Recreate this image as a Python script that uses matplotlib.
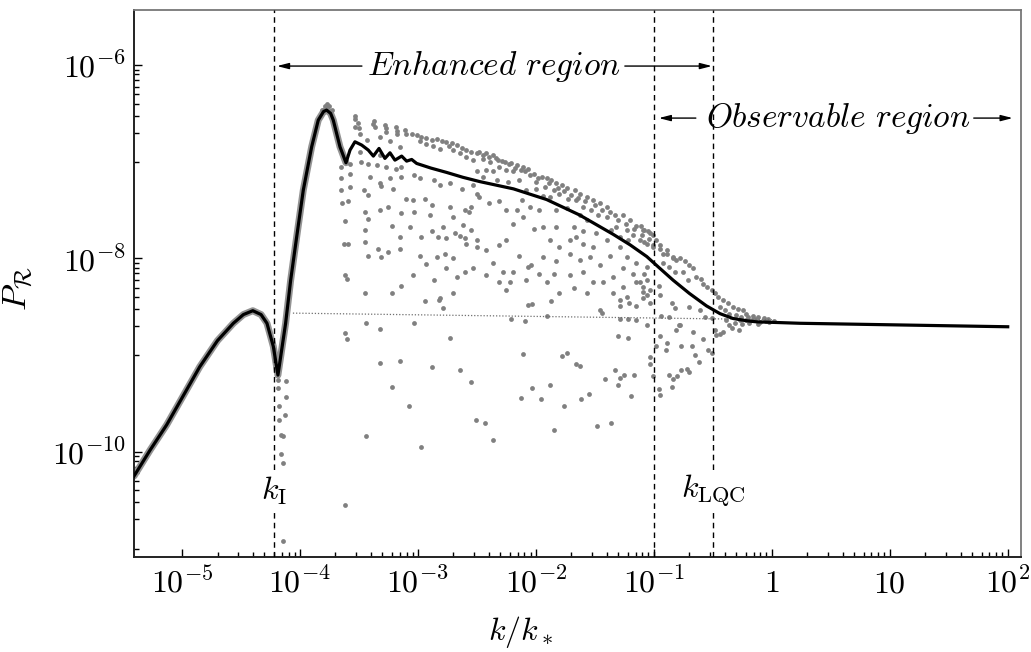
import numpy as np
import matplotlib
matplotlib.use('Agg')
import matplotlib.pyplot as plt
from matplotlib.ticker import NullFormatter

plt.rcParams['mathtext.fontset'] = 'cm'
plt.rcParams['font.family'] = 'serif'
plt.rcParams['font.serif'] = ['DejaVu Serif']

# ---- data (log10 k/k*, log10 P_R) ----
curve_logk = [-5.407, -5.27, -5.13, -4.99, -4.85, -4.70, -4.565, -4.48, -4.40, -4.33,
              -4.28, -4.226, -4.187, -4.122, -4.079, -4.028, -3.972, -3.901, -3.845, -3.80,
              -3.774, -3.74, -3.718, -3.661, -3.61, -3.576, -3.534, -3.477, -3.421, -3.378,
              -3.33, -3.28, -3.237, -3.195, -3.138, -3.096, -3.053, -3.011, -2.89, -2.757,
              -2.62, -2.475, -2.19, -1.91, -1.63, -1.345, -1.20, -1.06, -0.96, -0.837,
              -0.70, -0.554, -0.44, -0.33, -0.215, -0.13, 0.24, 2.0]
curve_logp = [-10.25, -9.98, -9.72, -9.42, -9.12, -8.85, -8.67, -8.58, -8.54, -8.58,
              -8.67, -8.91, -9.206, -8.671, -8.223, -7.776, -7.293, -6.845, -6.569, -6.48,
              -6.465, -6.50, -6.569, -6.845, -7.01, -6.879, -6.793, -6.827, -6.879, -6.941,
              -6.862, -6.965, -6.907, -6.983, -6.941, -6.993, -6.976, -7.017, -7.065, -7.11,
              -7.16, -7.205, -7.28, -7.39, -7.55, -7.75, -7.86, -7.98, -8.09, -8.224,
              -8.36, -8.49, -8.57, -8.62, -8.644, -8.655, -8.67, -8.706]

# dotted reference level
flat_logk = [-4.06, 0.0]
flat_logp = [-8.565, -8.632]

peak_pts = [(-3.77, -6.40), (-3.79, -6.42), (-3.75, -6.42), (-3.81, -6.46), (-3.73, -6.46)]

pts_a = [
    (-3.53, -6.53), (-3.53, -6.56), (-3.51, -6.60), (-3.53, -6.64), (-3.50, -6.65),
    (-3.37, -6.58), (-3.38, -6.61), (-3.365, -6.64),
    (-3.28, -6.62), (-3.27, -6.65), (-3.27, -6.69),
    (-3.19, -6.64), (-3.18, -6.68), (-3.18, -6.71),
    (-3.11, -6.67), (-3.10, -6.71),
    (-3.05, -6.71), (-3.01, -6.72), (-2.97, -6.74), (-2.93, -6.75), (-2.88, -6.77),
    (-2.84, -6.76), (-2.80, -6.79), (-2.76, -6.80), (-2.71, -6.81), (-2.67, -6.83),
    (-2.63, -6.86), (-2.59, -6.88), (-2.55, -6.90), (-2.50, -6.91),
    (-2.74, -6.84), (-2.70, -6.88), (-2.64, -6.91), (-2.59, -6.95), (-2.53, -6.98),
    (-2.98, -6.79), (-2.93, -6.82), (-2.87, -6.84), (-2.81, -6.87),
    (-3.65, -7.05), (-3.58, -7.02), (-3.48, -7.00), (-3.42, -7.02), (-3.35, -7.03),
    (-3.27, -7.05), (-3.19, -7.07), (-3.14, -7.05),
    (-3.49, -6.71), (-3.43, -6.77), (-3.32, -6.74), (-3.24, -6.79), (-3.15, -6.85),
    (-3.49, -6.90), (-3.32, -6.93),
]

pts_b = [
    (-3.65, -7.17), (-3.58, -7.13), (-3.41, -7.16), (-3.32, -7.22), (-3.24, -7.17),
    (-3.14, -7.16), (-3.03, -7.14), (-2.98, -7.17), (-2.86, -7.19), (-2.81, -7.24),
    (-2.73, -7.22), (-2.63, -7.28), (-2.53, -7.24), (-2.50, -7.10),
    (-3.65, -7.29), (-3.58, -7.26), (-3.46, -7.29), (-3.42, -7.34), (-3.31, -7.25),
    (-3.21, -7.28), (-3.10, -7.38), (-3.04, -7.39), (-2.94, -7.38), (-2.88, -7.45),
    (-2.73, -7.47), (-2.60, -7.50), (-2.55, -7.47), (-2.50, -7.33),
    (-3.64, -7.43), (-3.59, -7.41), (-3.45, -7.52), (-3.42, -7.59), (-3.32, -7.50),
    (-3.25, -7.47), (-3.14, -7.53), (-3.03, -7.52), (-2.90, -7.55), (-2.79, -7.67),
    (-2.70, -7.57), (-2.62, -7.65), (-2.57, -7.52),
    (-3.62, -7.61), (-3.45, -7.71), (-3.22, -7.66), (-3.15, -7.78), (-3.07, -7.67),
    (-2.97, -7.78), (-2.88, -7.72), (-2.83, -7.78), (-2.76, -7.79), (-2.69, -7.74),
    (-2.64, -7.77), (-2.60, -7.79), (-2.55, -7.71), (-2.50, -7.81),
    (-3.63, -7.85), (-3.59, -7.85), (-3.45, -7.83), (-3.34, -7.90), (-3.25, -7.93),
    (-3.15, -7.90), (-2.98, -7.97), (-2.84, -7.98), (-2.77, -7.95), (-2.70, -7.99),
    (-2.59, -7.85), (-2.50, -7.88),
    (-3.42, -7.97), (-3.31, -7.98), (-3.04, -8.17), (-2.93, -8.06), (-2.86, -8.22),
    (-2.76, -8.10), (-2.67, -8.19), (-2.60, -8.14), (-2.53, -8.10),
    (-3.62, -8.17), (-3.60, -8.21), (-3.45, -8.36), (-3.22, -8.36), (-3.14, -8.28),
    (-2.81, -8.41), (-2.70, -8.36),
]

pts_c = [
    (-4.14, -10.92), (-3.62, -8.77), (-3.60, -8.83), (-3.44, -8.67), (-3.32, -8.73),
    (-3.32, -9.08), (-3.15, -9.06), (-3.22, -9.33), (-3.08, -9.53), (-3.44, -9.84),
    (-2.97, -9.95), (-3.62, -10.55), (-3.03, -8.67), (-2.88, -9.12), (-2.73, -8.82),
    (-2.64, -9.15), (-2.55, -9.28), (-2.51, -9.67), (-2.94, -8.44), (-2.82, -8.43),
    (-2.79, -8.51),
    (-4.19, -9.26), (-4.12, -9.27), (-4.19, -9.34), (-4.12, -9.43), (-4.18, -9.53),
    (-4.18, -9.67), (-4.13, -9.62), (-4.16, -9.83), (-4.14, -9.84), (-4.16, -10.02),
    (-4.14, -10.11), (-4.17, -10.27),
]

pts_d = [
    (-2.48, -6.90), (-2.42, -6.91), (-2.36, -6.93), (-2.45, -6.97), (-2.39, -7.00),
    (-2.32, -6.98), (-2.26, -7.00), (-2.21, -7.01), (-2.16, -7.03), (-2.11, -7.05),
    (-2.07, -7.07), (-2.31, -7.05), (-2.25, -7.09), (-2.19, -7.10), (-2.42, -7.09),
    (-2.36, -7.10), (-1.95, -7.16), (-1.91, -7.17), (-1.87, -7.19), (-1.83, -7.22),
    (-1.78, -7.24), (-1.74, -7.27), (-1.67, -7.29), (-1.63, -7.33), (-1.57, -7.36),
    (-1.52, -7.40), (-1.46, -7.43), (-1.40, -7.47), (-2.05, -7.14), (-2.00, -7.21),
    (-1.92, -7.26), (-1.85, -7.29), (-1.80, -7.33), (-1.73, -7.38), (-1.66, -7.40),
    (-1.60, -7.47), (-1.53, -7.50), (-1.47, -7.55), (-1.40, -7.57), (-1.33, -7.55),
    (-1.26, -7.55), (-1.20, -7.60), (-1.15, -7.66), (-1.09, -7.71), (-1.03, -7.74),
    (-1.32, -7.67), (-1.23, -7.71), (-1.18, -7.76), (-1.12, -7.81), (-1.06, -7.85),
    (-1.01, -7.86), (-0.95, -7.90), (-0.89, -7.95), (-0.84, -8.00), (-1.29, -7.78),
    (-1.22, -7.81),
    (-2.45, -6.93), (-2.40, -6.95), (-2.34, -6.96), (-2.29, -6.99), (-2.23, -7.02),
    (-2.18, -7.06), (-2.13, -7.08), (-2.09, -7.10), (-2.02, -7.13), (-1.98, -7.17),
    (-1.89, -7.22), (-1.81, -7.27), (-1.76, -7.30), (-1.70, -7.34), (-1.64, -7.37),
    (-1.58, -7.41), (-1.50, -7.45), (-1.44, -7.50), (-1.37, -7.52), (-1.30, -7.60),
    (-1.24, -7.64), (-1.17, -7.70), (-1.10, -7.76), (-1.04, -7.80),
    (-2.45, -7.16), (-2.33, -7.19), (-2.24, -7.21), (-2.14, -7.19), (-2.08, -7.29),
    (-2.00, -7.28), (-1.94, -7.35), (-1.88, -7.36), (-2.12, -7.40), (-2.05, -7.47),
    (-1.97, -7.50), (-1.83, -7.50), (-1.74, -7.48), (-1.63, -7.55), (-1.57, -7.60),
    (-1.68, -7.67), (-1.60, -7.72), (-1.49, -7.74), (-1.36, -7.71),
]

pts_e = [
    (-2.48, -7.36), (-2.40, -7.43), (-2.31, -7.41), (-2.25, -7.50), (-2.16, -7.50),
    (-2.19, -7.64), (-2.11, -7.57), (-2.02, -7.69), (-1.94, -7.67), (-1.83, -7.67),
    (-1.88, -7.81), (-1.80, -7.88), (-1.71, -7.81), (-1.66, -7.78), (-1.60, -7.85),
    (-1.52, -7.88), (-1.40, -7.81), (-1.29, -7.88), (-1.23, -7.98), (-1.15, -8.05),
    (-1.06, -8.09), (-2.42, -7.91), (-2.31, -7.86), (-2.25, -7.81), (-2.36, -8.05),
    (-2.14, -7.97), (-2.04, -8.07), (-1.94, -7.98), (-1.83, -8.03), (-1.71, -7.95),
    (-1.63, -8.02), (-1.54, -7.98), (-1.46, -8.07), (-1.37, -7.97), (-1.26, -8.10),
    (-1.18, -8.16), (-1.06, -8.22), (-2.42, -8.17), (-2.28, -8.14), (-2.19, -8.14),
    (-2.07, -8.09), (-1.97, -8.16), (-1.85, -8.16), (-1.71, -8.17), (-1.60, -8.14),
    (-1.52, -8.24), (-1.43, -8.24), (-1.35, -8.19), (-1.26, -8.29), (-1.15, -8.24),
    (-1.09, -8.35), (-2.31, -8.24), (-2.22, -8.24), (-2.25, -8.33), (-2.08, -8.22),
    (-1.91, -8.24), (-1.80, -8.36), (-1.68, -8.31), (-1.57, -8.36), (-1.35, -8.36),
    (-1.23, -8.40), (-1.06, -8.38),
]

pts_f = [
    (-2.07, -8.48), (-2.03, -8.47), (-1.87, -8.44), (-2.21, -8.63), (-2.09, -8.65),
    (-1.91, -8.59), (-1.46, -8.53), (-1.44, -8.56), (-1.29, -8.43), (-1.21, -8.46),
    (-1.15, -8.49), (-1.29, -8.49), (-1.29, -8.63), (-1.22, -8.63), (-1.15, -8.64),
    (-1.06, -8.69), (-1.03, -8.46), (-0.85, -8.46), (-0.82, -8.51), (-0.94, -8.59),
    (-0.87, -8.60), (-0.79, -8.69), (-0.81, -8.74), (-0.95, -8.80), (-0.98, -8.90),
    (-0.89, -8.87), (-0.90, -8.95), (-1.30, -8.80), (-1.22, -8.82), (-2.11, -8.99),
    (-1.78, -9.01), (-1.74, -8.98), (-1.66, -9.09), (-1.63, -9.11), (-1.03, -9.02),
    (-1.03, -9.09), (-1.33, -9.15), (-1.41, -9.25), (-1.29, -9.24), (-1.255, -9.21),
    (-1.17, -9.21), (-1.30, -9.31), (-1.19, -9.42), (-1.01, -9.22), (-0.87, -9.21),
    (-0.84, -9.25), (-0.80, -9.22), (-0.85, -9.33), (-0.96, -9.35), (-0.95, -9.41),
    (-2.03, -9.34), (-1.88, -9.31), (-2.13, -9.44), (-1.96, -9.45), (-1.76, -9.53),
    (-1.62, -9.45), (-1.55, -9.40), (-2.43, -9.70), (-2.36, -9.88), (-1.85, -9.77),
    (-1.48, -9.73), (-1.36, -9.70),
]

pts_g = [
    (-1.11, -7.66), (-1.08, -7.71), (-1.05, -7.72), (-1.01, -7.76), (-0.98, -7.81),
    (-1.08, -7.83), (-1.01, -7.88), (-0.95, -7.86), (-0.92, -7.95), (-0.89, -7.91),
    (-0.84, -7.98), (-0.81, -8.02), (-0.78, -8.00), (-0.74, -8.03), (-0.70, -8.07),
    (-0.67, -8.10), (-0.92, -8.05), (-0.87, -8.09), (-0.82, -8.14), (-0.75, -8.14),
    (-0.71, -8.22), (-0.64, -8.19), (-0.60, -8.21), (-0.58, -8.26), (-0.55, -8.29),
    (-0.51, -8.33), (-0.48, -8.36), (-0.46, -8.40), (-0.41, -8.43), (-0.37, -8.46),
    (-0.33, -8.50), (-0.29, -8.52), (-0.24, -8.53), (-0.22, -8.57), (-0.16, -8.59),
    (-0.12, -8.60), (-0.07, -8.62), (-0.03, -8.63), (-0.44, -8.50), (-0.40, -8.53),
    (-0.36, -8.57), (-0.39, -8.64), (-0.36, -8.69), (-0.31, -8.67), (-0.27, -8.64),
    (-0.22, -8.64), (-0.17, -8.64),
    (-0.30, -8.58), (-0.26, -8.60), (-0.20, -8.60), (-0.14, -8.63), (-0.10, -8.66),
    (-0.05, -8.65), (-0.02, -8.66), (0.02, -8.65), (-0.25, -8.68), (-0.19, -8.67),
    (-0.12, -8.68), (-0.34, -8.72), (-0.28, -8.74),
    (-1.12, -8.24), (-1.08, -8.16), (-1.09, -8.29), (-1.03, -8.33), (-1.09, -8.41),
    (-0.96, -8.28), (-0.95, -8.38), (-0.70, -8.50), (-0.61, -8.53), (-0.57, -8.60),
    (-0.51, -8.62), (-0.78, -8.69), (-0.67, -8.76), (-0.58, -8.83), (-0.48, -8.74),
    (-0.47, -8.79), (-0.44, -8.78), (-0.41, -8.76), (-0.54, -8.95), (-0.51, -8.98),
    (-0.77, -8.91), (-0.68, -8.91), (-0.65, -9.00), (-0.62, -9.07), (-0.77, -9.15),
    (-0.72, -9.14), (-0.70, -9.17),
]

k_I, k_mid, k_LQC = 6e-5, 0.1, 0.32

x_major = [1e-5, 1e-4, 1e-3, 1e-2, 1e-1, 1, 10, 1e2]
x_labels = [r'$10^{-5}$', r'$10^{-4}$', r'$10^{-3}$', r'$10^{-2}$', r'$10^{-1}$',
            r'$1$', r'$10$', r'$10^{2}$']
y_major = [1e-10, 1e-8, 1e-6]
y_labels = [r'$10^{-10}$', r'$10^{-8}$', r'$10^{-6}$']

# ---- figure ----
fig = plt.figure(figsize=(10.31, 6.52), dpi=100)
ax = fig.add_axes([0.130, 0.1457, 0.860, 0.839])
ax.set_xscale('log')
ax.set_yscale('log')

ck = 10 ** np.array(curve_logk)
cp = 10 ** np.array(curve_logp)
gray = '#808080'

# gray halo of the sampled spectra around the left part of the curve
n_halo = 25
ax.plot(ck[:n_halo], cp[:n_halo], color='#939393', lw=5.0, solid_capstyle='round',
        solid_joinstyle='round', zorder=2)

all_pts = np.array(peak_pts + pts_a + pts_b + pts_c + pts_d + pts_e + pts_f + pts_g)
ax.scatter(10 ** all_pts[:, 0], 10 ** all_pts[:, 1], s=12, color=gray,
           linewidths=0, zorder=2)

ax.plot(10 ** np.array(flat_logk), 10 ** np.array(flat_logp), color='#707070',
        lw=0.9, ls=(0, (1, 1.5)), zorder=2)

for kv in (k_I, k_mid, k_LQC):
    ax.axvline(kv, color='black', lw=1.0, ls=(0, (4, 3)), zorder=3)

ax.plot(ck, cp, color='black', lw=2.3, solid_joinstyle='round', zorder=4)

ax.set_xlim(10 ** -5.407, 10 ** 2.11)
ax.set_ylim(10 ** -11.087, 10 ** -5.43)

# ticks
ax.set_xticks(x_major)
ax.set_xticklabels(x_labels)
x_minor = [m * 10.0 ** n for n in range(-5, 2) for m in range(2, 10)]
ax.set_xticks(x_minor, minor=True)
ax.set_yticks(y_major)
ax.set_yticklabels(y_labels)
y_minor = [m * 10.0 ** n for n in (-11, -9, -7) for m in range(1, 10)]
ax.set_yticks(y_minor, minor=True)
ax.xaxis.set_minor_formatter(NullFormatter())
ax.yaxis.set_minor_formatter(NullFormatter())
ax.tick_params(which='both', direction='in', top=False, right=False,
               labelsize=23, width=1.0)
ax.tick_params(which='major', length=6)
ax.tick_params(which='minor', length=3.5)
ax.tick_params(axis='x', pad=8)
ax.tick_params(axis='y', pad=6)

for side in ('left', 'bottom'):
    ax.spines[side].set_linewidth(1.4)
    ax.spines[side].set_color('#222222')
for side in ('top', 'right'):
    ax.spines[side].set_linewidth(1.3)
    ax.spines[side].set_color('#777777')

ax.set_xlabel(r'$k/k_*$', fontsize=23)
ax.xaxis.set_label_coords(0.436, -0.105)
ax.set_ylabel(r'$P_{\mathcal{R}}$', fontsize=25)
ax.yaxis.set_label_coords(-0.112, 0.49)

# labels for the characteristic scales
lab_y = 10 ** -10.40
box = dict(facecolor='white', edgecolor='none', pad=1.5)
ax.text(k_I, lab_y, r'$k_{\rm I}$', fontsize=23, ha='center', va='center',
        bbox=box, zorder=5)
ax.text(k_LQC, lab_y, r'$k_{\rm LQC}$', fontsize=23, ha='center', va='center',
        bbox=box, zorder=5)

# region annotations
arrow = dict(arrowstyle='-|>,head_length=0.7,head_width=0.18', lw=1.0,
             color='black', shrinkA=0, shrinkB=0)
y_enh = 10 ** -6.01
ax.annotate('', xy=(10 ** -4.195, y_enh), xytext=(10 ** -3.475, y_enh),
            arrowprops=arrow, zorder=5)
ax.annotate('', xy=(10 ** -0.508, y_enh), xytext=(10 ** -1.246, y_enh),
            arrowprops=arrow, zorder=5)
ax.text(10 ** -2.36, y_enh, r'$Enhanced\ region$', fontsize=24, ha='center',
        va='center', zorder=5)

y_obs = 10 ** -6.548
ax.annotate('', xy=(10 ** -0.958, y_obs), xytext=(10 ** -0.644, y_obs),
            arrowprops=arrow, zorder=5)
ax.annotate('', xy=(10 ** 2.042, y_obs), xytext=(10 ** 1.712, y_obs),
            arrowprops=arrow, zorder=5)
ax.text(10 ** 0.559, y_obs, r'$Observable\ region$', fontsize=24, ha='center',
        va='center', zorder=5)

fig.savefig('out.png', dpi=100, facecolor='white')
